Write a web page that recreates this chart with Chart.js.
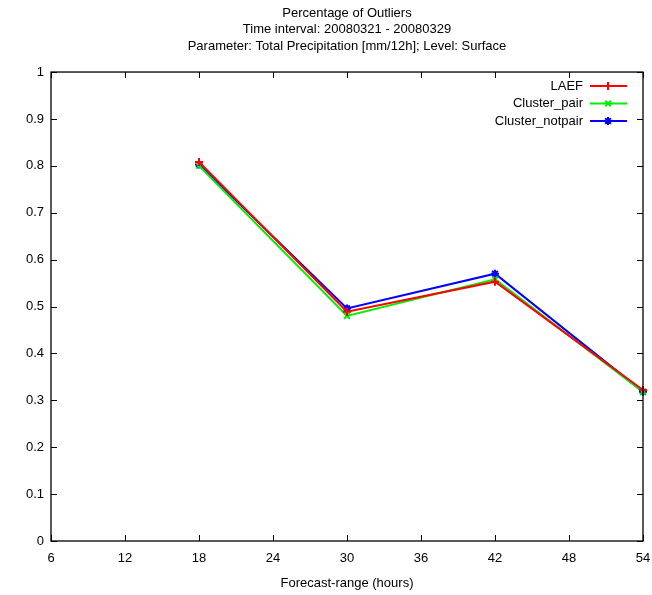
<!DOCTYPE html>
<html>
<head>
<meta charset="utf-8">
<script src="https://cdn.jsdelivr.net/npm/chart.js@4.4.1/dist/chart.umd.min.js"></script>
<style>
html,body{margin:0;padding:0;background:#fff;}
#wrap{width:652px;height:595px;position:relative;}
</style>
</head>
<body>
<div id="wrap"><canvas id="c" width="652" height="595"></canvas></div>
<script>
const forecastHours = [18, 30, 42, 54];
const laef = [0.808, 0.489, 0.553, 0.322];
const clusterPair = [0.800, 0.480, 0.558, 0.318];
const clusterNotpair = [0.803, 0.496, 0.570, 0.318];
const seriesNames = ['LAEF', 'Cluster_pair', 'Cluster_notpair'];
const titleLines = ['Percentage of Outliers', 'Time interval: 20080321 - 20080329', 'Parameter: Total Precipitation [mm/12h]; Level: Surface'];
const xAxisTitle = 'Forecast-range (hours)';

const FONT = '"Liberation Sans", Arial, Helvetica, sans-serif';
const FS = 13;

function pts(vals){ return forecastHours.map((h,i)=>({x:h, y:vals[i]})); }

const frameTicks = {
  id: 'frameTicks',
  afterDatasetsDraw(chart){
    const {ctx, chartArea:a, scales} = chart;
    ctx.save();
    ctx.strokeStyle = '#000';
    ctx.lineWidth = 1;
    const L = 6;
    ctx.beginPath();
    scales.x.ticks.forEach(t=>{
      const px = Math.round(scales.x.getPixelForValue(t.value))+0.5;
      ctx.moveTo(px, a.bottom); ctx.lineTo(px, a.bottom - L);
      ctx.moveTo(px, a.top); ctx.lineTo(px, a.top + L);
    });
    scales.y.ticks.forEach(t=>{
      const py = Math.round(scales.y.getPixelForValue(t.value))+0.5;
      ctx.moveTo(a.left, py); ctx.lineTo(a.left + L, py);
      ctx.moveTo(a.right, py); ctx.lineTo(a.right - L, py);
    });
    ctx.stroke();
    ctx.lineWidth = 1.3;
    ctx.strokeRect(a.left, a.top, a.right - a.left, a.bottom - a.top);
    // legend inside plot, top right
    ctx.font = FS + 'px ' + FONT;
    ctx.textAlign = 'right';
    ctx.textBaseline = 'middle';
    const rows = [86, 103.5, 121];
    chart.data.datasets.forEach((ds, i)=>{
      const y = rows[i];
      ctx.fillStyle = '#000';
      ctx.fillText(ds.label, 583, y);
      ctx.strokeStyle = ds.borderColor;
      ctx.lineWidth = 2;
      ctx.beginPath(); ctx.moveTo(590, y); ctx.lineTo(627, y); ctx.stroke();
      ctx.fillStyle = ds.borderColor;
      Chart.helpers.drawPoint(ctx, {pointStyle: ds.pointStyle, radius: ds.pointRadius, rotation: 0, borderWidth: 2}, 608, y);
    });
    ctx.restore();
  }
};

const mk = (label, data, color, style) => ({
  label, data: pts(data), borderColor: color, backgroundColor: color,
  borderWidth: 2, pointStyle: style, pointRadius: 4, pointBorderWidth: 2,
  pointHoverRadius: 4, tension: 0, clip: false, fill: false
});

new Chart(document.getElementById('c'), {
  type: 'line',
  data: {
    datasets: [
      mk(seriesNames[0], laef, '#ff0000', 'cross'),
      mk(seriesNames[1], clusterPair, '#00ee00', 'crossRot'),
      mk(seriesNames[2], clusterNotpair, '#0000ff', 'star')
    ]
  },
  plugins: [frameTicks],
  options: {
    responsive: false,
    animation: false,
    devicePixelRatio: 1,
    layout: { padding: { left: 0, right: 9, top: 0, bottom: 0 } },
    plugins: {
      legend: { display: false },
      tooltip: { enabled: false },
      title: {
        display: true, text: titleLines, fullSize: false, color: '#000',
        font: { family: FONT, size: FS, weight: 'normal', lineHeight: 1.27 },
        padding: { top: 5, bottom: 17.5 }
      }
    },
    scales: {
      x: {
        type: 'linear', min: 6, max: 54,
        ticks: { stepSize: 6, color: '#000', padding: 10, font: { family: FONT, size: FS } },
        grid: { display: false, drawTicks: false },
        border: { display: false },
        title: { display: true, text: xAxisTitle, color: '#000', font: { family: FONT, size: FS }, padding: { top: 8, bottom: 4 } },
        afterFit(s){ s.height = 54; s.paddingLeft = 0; s.paddingRight = 0; }
      },
      y: {
        type: 'linear', min: 0, max: 1,
        ticks: { stepSize: 0.1, color: '#000', padding: 7, font: { family: FONT, size: FS },
          callback: v => String(Math.round(v*10)/10) },
        grid: { display: false, drawTicks: false },
        border: { display: false },
        afterFit(s){ s.width = 51; s.paddingTop = 0; s.paddingBottom = 0; }
      }
    }
  }
});
</script>
</body>
</html>
